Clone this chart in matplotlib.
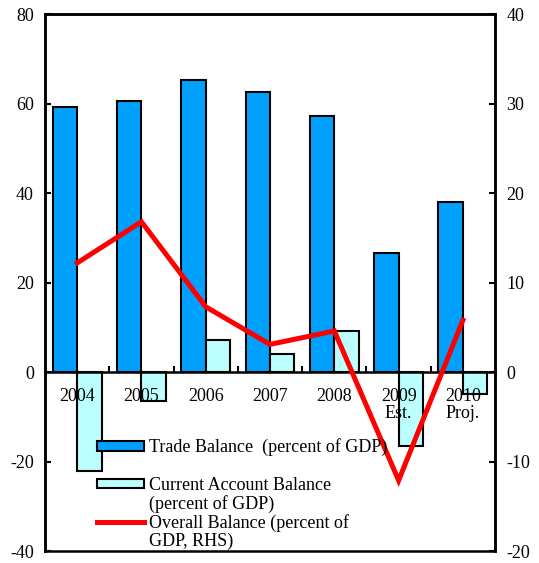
import matplotlib
matplotlib.use("Agg")
import matplotlib.pyplot as plt
from matplotlib.patches import Patch
from matplotlib.lines import Line2D
import numpy as np

plt.rcParams['font.family'] = ['Liberation Serif', 'DejaVu Serif']
plt.rcParams['axes.unicode_minus'] = False

# data
years = ["2004", "2005", "2006", "2007", "2008", "2009\nEst.", "2010\nProj."]
trade_balance = [59.2, 60.6, 65.2, 62.5, 57.2, 26.6, 38.0]
current_account = [-22.0, -6.5, 7.1, 4.0, 9.1, -16.4, -4.8]
overall_balance = [12.2, 16.8, 7.3, 3.1, 4.6, -12.1, 5.8]

blue = "#00A0FF"
cyan = "#BBFFFF"
fs = 13

fig = plt.figure(figsize=(5.39, 5.63), dpi=100)
ax = fig.add_axes([0.0835, 0.021, 0.835, 0.954])
x = np.arange(len(years))
w = 0.38

ax.bar(x - w / 2, trade_balance, w, color=blue, edgecolor="black", linewidth=1.5, zorder=2)
ax.bar(x + w / 2, current_account, w, color=cyan, edgecolor="black", linewidth=1.5, zorder=2)

ax.set_xlim(-0.5, len(years) - 0.5)
ax.set_ylim(-40, 80)
ax.set_yticks(range(-40, 81, 20))
ax.tick_params(axis="y", direction="in", length=4, width=1.5, labelsize=fs, pad=8)

# zero line acts as category axis
ax.spines["bottom"].set_position(("data", 0))
ax.set_xticks(x[:-1] + 0.5)
ax.set_xticklabels([])
ax.tick_params(axis="x", direction="in", length=4, width=1.5)
for s in ax.spines.values():
    s.set_linewidth(1.8)
    s.set_zorder(3)

for xi, lab in zip(x, years):
    ax.text(xi, -3.6, lab, ha="center", va="top", fontsize=fs, linespacing=0.95, zorder=4)

ax2 = ax.twinx()
ax2.plot(x, overall_balance, color="red", linewidth=3.6, solid_joinstyle="miter", zorder=4)
ax2.set_ylim(-20, 40)
ax2.set_yticks(range(-20, 41, 10))
ax2.tick_params(axis="y", direction="in", length=4, width=1.5, labelsize=fs, pad=8)
for s in ax2.spines.values():
    s.set_linewidth(1.8)

# legend: handles sit next to the first line of each label
blank = Patch(facecolor="none", edgecolor="none")
leg_kw = dict(frameon=False, fontsize=fs, handlelength=2.6, handleheight=0.45,
              handletextpad=0.3, borderpad=0, borderaxespad=0, loc="upper left")
leg1 = ax2.legend([Patch(facecolor=blue, edgecolor="black", linewidth=1.5)],
                  ["Trade Balance  (percent of GDP)"],
                  bbox_to_anchor=(0.115, 0.21), **leg_kw)
ax2.add_artist(leg1)
ax2.legend([Patch(facecolor=cyan, edgecolor="black", linewidth=1.5), blank,
            Line2D([0], [0], color="red", linewidth=3.6), blank],
           ["Current Account Balance", "(percent of GDP)",
            "Overall Balance (percent of", "GDP, RHS)"],
           bbox_to_anchor=(0.115, 0.138), labelspacing=0.05, **leg_kw)

fig.savefig("out.png", dpi=100)
